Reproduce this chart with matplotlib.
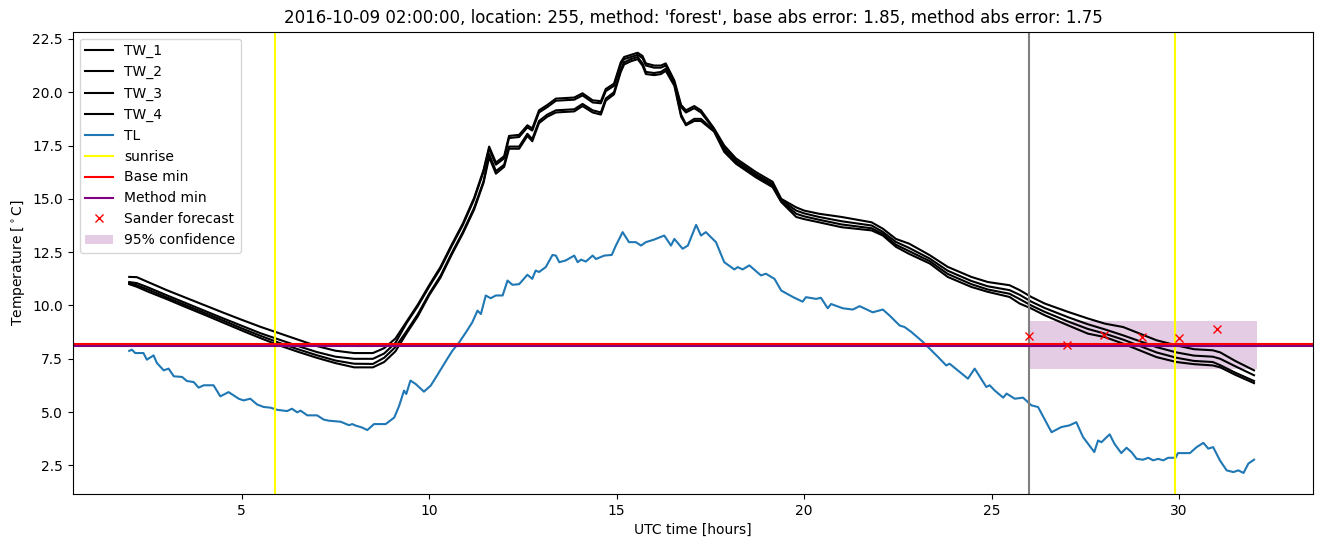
import matplotlib.pyplot as plt

plt.switch_backend("Agg")

# --- data ------------------------------------------------------------------
tw_hours = [2.0, 2.2, 2.5, 3.0, 3.5, 4.0, 4.5, 5.0, 5.5, 6.0, 6.5, 7.0, 7.5, 8.0, 8.5,
            8.8, 9.1, 9.4, 9.7, 10.0, 10.3, 10.6, 10.9, 11.2, 11.45, 11.6, 11.78, 12.0,
            12.13, 12.4, 12.62, 12.75, 12.93, 13.15, 13.38, 13.87, 14.09, 14.36, 14.58,
            14.71, 14.93, 15.11, 15.2, 15.38, 15.56, 15.69, 15.78, 16.0, 16.18, 16.31,
            16.54, 16.72, 16.85, 17.07, 17.25, 17.6, 17.87, 18.18, 18.72, 19.16, 19.39,
            19.79, 20.0, 20.4, 21.0, 21.8, 22.1, 22.45, 22.8, 23.35, 23.83, 24.46, 24.9,
            25.48, 25.75, 26.06, 26.42, 27.04, 27.57, 28.02, 28.51, 29.4, 29.93, 30.4,
            30.9, 31.1, 31.5, 32.0]
tw_1 = [11.34, 11.33, 11.10, 10.72, 10.37, 10.02, 9.67, 9.33, 9.00, 8.70, 8.40, 8.10, 7.88,
        7.77, 7.77, 8.00, 8.45, 9.25, 10.05, 10.95, 11.80, 12.85, 13.85, 15.05, 16.35,
        17.45, 16.70, 17.00, 17.95, 18.00, 18.45, 18.30, 19.15, 19.40, 19.70, 19.75, 19.95,
        19.62, 19.58, 20.15, 20.40, 21.40, 21.65, 21.75, 21.85, 21.70, 21.35, 21.25, 21.25,
        21.35, 20.55, 19.40, 19.15, 19.35, 19.15, 18.30, 17.50, 16.90, 16.25, 15.80, 15.00,
        14.60, 14.45, 14.30, 14.15, 13.90, 13.60, 13.12, 12.90, 12.36, 11.81, 11.34, 11.10,
        10.95, 10.72, 10.40, 10.09, 9.70, 9.39, 9.15, 8.99, 8.37, 8.13, 7.95, 7.90, 7.80,
        7.40, 6.96]
tw_2 = [11.10, 11.05, 10.85, 10.48, 10.12, 9.76, 9.40, 9.05, 8.70, 8.40, 8.10, 7.82, 7.60,
        7.50, 7.50, 7.75, 8.25, 9.18, 9.98, 10.88, 11.73, 12.78, 13.78, 14.98, 16.28,
        17.35, 16.60, 16.90, 17.85, 17.90, 18.35, 18.20, 19.05, 19.30, 19.60, 19.65, 19.85,
        19.52, 19.48, 20.05, 20.30, 21.30, 21.55, 21.65, 21.75, 21.60, 21.25, 21.15, 21.15,
        21.25, 20.45, 19.30, 19.05, 19.25, 19.05, 18.25, 17.40, 16.80, 16.15, 15.70, 14.95,
        14.45, 14.32, 14.15, 13.95, 13.75, 13.45, 12.98, 12.70, 12.20, 11.63, 11.15, 10.90,
        10.72, 10.50, 10.18, 9.88, 9.45, 9.12, 8.88, 8.60, 8.05, 7.80, 7.65, 7.60, 7.50,
        7.15, 6.73]
tw_3 = [11.05, 10.95, 10.75, 10.38, 10.02, 9.66, 9.30, 8.93, 8.58, 8.25, 7.95, 7.67, 7.42,
        7.27, 7.26, 7.55, 8.05, 8.80, 9.60, 10.55, 11.38, 12.45, 13.45, 14.58, 15.82,
        17.10, 16.30, 16.60, 17.45, 17.45, 18.05, 17.80, 18.65, 18.95, 19.15, 19.20, 19.45,
        19.15, 19.05, 19.70, 20.00, 21.05, 21.40, 21.55, 21.65, 21.35, 20.95, 20.90, 20.95,
        21.10, 20.40, 18.95, 18.50, 18.75, 18.75, 18.20, 17.30, 16.70, 16.08, 15.62, 14.90,
        14.30, 14.18, 14.02, 13.80, 13.62, 13.35, 12.85, 12.55, 12.08, 11.48, 11.00, 10.75,
        10.55, 10.30, 10.00, 9.70, 9.25, 8.90, 8.68, 8.40, 7.80, 7.55, 7.40, 7.35, 7.20,
        6.85, 6.46]
tw_4 = [11.00, 10.88, 10.65, 10.30, 9.93, 9.57, 9.20, 8.83, 8.47, 8.13, 7.83, 7.55, 7.30,
        7.10, 7.10, 7.35, 7.85, 8.70, 9.50, 10.48, 11.30, 12.38, 13.38, 14.50, 15.75,
        16.95, 16.18, 16.50, 17.35, 17.35, 17.95, 17.70, 18.55, 18.85, 19.05, 19.10, 19.35,
        19.05, 18.95, 19.60, 19.90, 20.95, 21.30, 21.45, 21.55, 21.25, 20.85, 20.80, 20.85,
        21.00, 20.30, 18.85, 18.45, 18.65, 18.65, 18.15, 17.20, 16.65, 16.00, 15.55, 14.85,
        14.15, 14.05, 13.90, 13.67, 13.52, 13.28, 12.75, 12.42, 11.97, 11.34, 10.87, 10.64,
        10.40, 10.09, 9.86, 9.54, 9.07, 8.68, 8.52, 8.21, 7.58, 7.35, 7.25, 7.19, 7.10,
        6.75, 6.36]

tl_hours = [2.0, 2.07, 2.16, 2.38, 2.47, 2.65, 2.74, 2.92, 3.05, 3.19, 3.41, 3.54, 3.72,
            3.85, 3.99, 4.25, 4.43, 4.65, 4.92, 5.05, 5.23, 5.41, 5.59, 5.77, 5.94, 6.21,
            6.34, 6.48, 6.57, 6.75, 7.01, 7.19, 7.32, 7.64, 7.86, 7.95, 8.04, 8.21, 8.35,
            8.53, 8.84, 9.07, 9.2, 9.33, 9.39, 9.46, 9.5, 9.64, 9.86, 10.04, 10.18, 10.48,
            10.62, 10.8, 10.98, 11.15, 11.29, 11.38, 11.51, 11.64, 11.78, 11.96, 12.09,
            12.22, 12.4, 12.62, 12.75, 12.84, 12.93, 13.11, 13.29, 13.38, 13.47, 13.64,
            13.87, 13.96, 14.05, 14.18, 14.36, 14.45, 14.67, 14.87, 14.98, 15.16, 15.33,
            15.51, 15.65, 15.78, 16.0, 16.27, 16.45, 16.54, 16.76, 16.9, 17.12, 17.25,
            17.38, 17.47, 17.65, 17.87, 18.14, 18.23, 18.36, 18.54, 18.85, 18.98, 19.21,
            19.39, 19.71, 19.96, 20.05, 20.32, 20.45, 20.63, 20.72, 21.03, 21.3, 21.48,
            21.83, 22.1, 22.28, 22.55, 22.68, 22.86, 23.17, 23.57, 23.79, 23.88, 24.37,
            24.55, 24.86, 24.95, 25.08, 25.31, 25.4, 25.62, 25.84, 26.06, 26.24, 26.6,
            26.86, 27.08, 27.26, 27.44, 27.74, 27.84, 27.93, 28.15, 28.28, 28.46, 28.6,
            28.73, 28.87, 29.04, 29.18, 29.31, 29.44, 29.58, 29.71, 29.91, 29.97, 30.29,
            30.47, 30.65, 30.78, 30.91, 31.09, 31.27, 31.45, 31.58, 31.72, 31.85, 32.0]
tl = [7.87, 7.93, 7.77, 7.77, 7.46, 7.66, 7.30, 6.96, 7.04, 6.68, 6.65, 6.46, 6.41,
      6.15, 6.26, 6.26, 5.74, 5.94, 5.63, 5.55, 5.63, 5.36, 5.24, 5.21, 5.11, 5.05,
      5.16, 4.99, 5.07, 4.85, 4.85, 4.65, 4.60, 4.55, 4.39, 4.44, 4.37, 4.28, 4.16,
      4.44, 4.44, 4.75, 5.30, 6.01, 5.85, 6.24, 6.48, 6.32, 5.96, 6.24, 6.63, 7.49,
      7.88, 8.27, 8.74, 9.21, 9.76, 9.60, 10.47, 10.34, 10.47, 10.47, 11.17, 10.97,
      11.00, 11.44, 11.25, 11.64, 11.57, 11.80, 12.37, 12.34, 12.03, 12.11, 12.34,
      12.03, 12.15, 12.06, 12.34, 12.18, 12.34, 12.37, 12.81, 13.44, 12.97, 12.97,
      12.81, 12.97, 13.09, 13.28, 12.81, 13.12, 12.66, 12.81, 13.78, 13.28, 13.44,
      13.28, 12.97, 12.03, 11.69, 11.80, 11.69, 11.88, 11.41, 11.49, 11.25, 10.70,
      10.39, 10.18, 10.39, 10.31, 10.36, 9.87, 10.07, 9.87, 9.81, 9.97, 9.68, 9.81,
      9.53, 9.06, 8.99, 8.76, 8.29, 7.59, 7.19, 7.27, 6.57, 7.04, 6.18, 6.26, 6.02,
      5.68, 5.87, 5.63, 5.68, 5.32, 5.24, 4.06, 4.30, 4.38, 4.53, 3.83, 3.13, 3.67,
      3.59, 3.96, 3.51, 3.08, 3.33, 3.13, 2.81, 2.77, 2.86, 2.74, 2.81, 2.74, 2.86,
      2.86, 3.08, 3.08, 3.36, 3.56, 3.29, 3.36, 2.74, 2.27, 2.19, 2.27, 2.15, 2.59, 2.77]

sunrise_hours = [5.88, 29.9]
forecast_start = 26.0
base_min = 8.18
method_min = 8.09
sander_hours = [26, 27, 28, 29, 30, 31]
sander_values = [8.56, 8.17, 8.60, 8.52, 8.49, 8.89]
conf_hours = [26.0, 32.08]
conf_low = 7.02
conf_high = 9.26

title = ("2016-10-09 02:00:00, location: 255, method: 'forest', "
         "base abs error: 1.85, method abs error: 1.75")

# --- plot ------------------------------------------------------------------
fig, ax = plt.subplots(figsize=(13.24, 5.47), dpi=100)
fig.subplots_adjust(left=0.055, right=0.992, top=0.942, bottom=0.097)

for name, values in [("TW_1", tw_1), ("TW_2", tw_2), ("TW_3", tw_3), ("TW_4", tw_4)]:
    ax.plot(tw_hours, values, color="black", label=name)
ax.plot(tl_hours, tl, color="tab:blue", label="TL")

for i, h in enumerate(sunrise_hours):
    ax.axvline(h, color="yellow", label="sunrise" if i == 0 else None)
ax.axvline(forecast_start, color="grey")
ax.axhline(base_min, color="red", label="Base min")
ax.axhline(method_min, color="purple", label="Method min")
ax.plot(sander_hours, sander_values, "x", color="red", label="Sander forecast")
ax.fill_between(conf_hours, conf_low, conf_high, color="purple", alpha=0.2,
                linewidth=0, label="95% confidence")

ax.set_title(title)
ax.set_xlabel("UTC time [hours]")
ax.set_ylabel(r"Temperature [$^\circ$C]")
ax.legend(loc="upper left")

fig.savefig("out.png", dpi=100)
